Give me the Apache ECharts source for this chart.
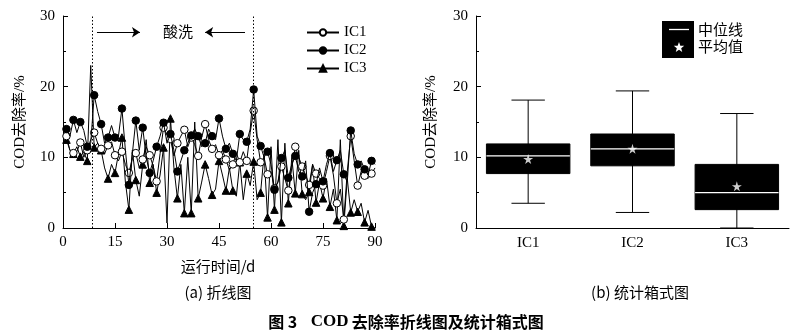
<!DOCTYPE html>
<html>
<head>
<meta charset="utf-8">
<script src="https://cdn.jsdelivr.net/npm/echarts@6/dist/echarts.min.js"></script>
<style>
  html, body { margin: 0; padding: 0; background: #fff; }
  #chart { width: 805px; height: 336px; }
</style>
</head>
<body>
<div id="chart"></div>
<script>
// Operating days (1..90) and daily COD removal (%) for the three cells
const days = Array.from({ length: 90 }, (_, i) => i + 1);

const ic1 = [
  13.0, 11.0, 10.6, 10.8, 12.1, 10.0, 11.0, 12.5, 13.5, 12.0,
  11.2, 10.5, 11.7, 12.2, 10.3, 9.5, 10.8, 9.0, 7.8, 9.8,
  10.6, 8.5, 9.7, 11.5, 10.3, 8.8, 6.6, 10.5, 14.2, 13.2,
  12.6, 10.2, 12.0, 13.0, 13.9, 11.5, 12.8, 11.8, 10.2, 12.8,
  14.7, 12.5, 11.2, 11.8, 10.3, 11.0, 9.7, 8.2, 9.0, 10.6,
  9.3, 10.8, 9.5, 13.5, 16.6, 12.5, 9.3, 10.0, 7.6, 8.0,
  5.6, 6.5, 8.7, 7.0, 5.3, 8.5, 11.5, 10.0, 8.7, 7.5,
  6.1, 9.0, 7.7, 7.0, 6.0, 8.0, 10.2, 7.5, 3.5, 5.5,
  1.2, 8.0, 13.0, 9.5, 6.0, 8.0, 7.4, 7.0, 7.7, 8.5
];

const ic2 = [
  14.0, 13.0, 15.3, 13.5, 15.0, 13.8, 11.5, 12.0, 18.8, 16.5,
  14.7, 12.0, 12.8, 14.5, 12.8, 13.0, 16.9, 11.0, 6.1, 10.5,
  15.2, 11.0, 14.2, 10.0, 7.8, 9.5, 11.5, 13.0, 14.9, 12.0,
  13.3, 11.0, 8.0, 9.5, 11.0, 12.0, 13.1, 14.0, 13.0, 11.5,
  12.0, 14.0, 13.0, 12.5, 15.5, 13.0, 11.2, 12.0, 10.5, 9.5,
  13.3, 12.5, 12.2, 14.0, 19.6, 13.0, 11.6, 10.0, 10.8, 9.0,
  5.4, 6.5, 9.9, 11.0, 7.1, 9.0, 10.2, 8.0, 7.3, 9.5,
  2.3, 5.0, 6.2, 8.5, 6.6, 9.0, 10.6, 8.0, 9.6, 11.0,
  7.6, 6.5, 13.8, 10.5, 9.0, 9.5, 8.3, 7.5, 9.5, 9.0
];

const ic3 = [
  12.5, 11.0, 10.5, 11.5, 10.1, 10.8, 9.5, 23.0, 11.4, 12.0,
  11.0, 8.5, 7.0, 9.0, 7.8, 10.5, 12.8, 6.5, 2.6, 11.0,
  6.8, 4.5, 9.0, 12.5, 6.4, 9.0, 5.0, 7.5, 11.4, 0.7,
  15.5, 8.5, 4.2, 9.0, 2.1, 10.0, 2.1, 15.0, 4.2, 6.5,
  9.0, 7.0, 4.7, 5.5, 9.5, 7.5, 5.3, 8.5, 5.3, 4.5,
  9.3, 4.0, 7.7, 6.0, 9.4, 4.0, 5.0, 10.5, 1.5, 11.5,
  2.6, 12.5, 0.8, 12.0, 3.5, 10.0, 4.9, 11.0, 4.8, 4.0,
  5.1, 9.0, 3.6, 6.5, 4.2, 7.0, 3.0, 5.5, 1.1, 12.5,
  0.3, 7.0, 2.2, 4.0, 2.3, 3.5, 0.8, 2.5, 0.2, 0.0
];

// Acid-wash boundaries (day)
const acidWashDays = [8.3, 55];

// Box-plot statistics per cell
const cells = ['IC1', 'IC2', 'IC3'];
const boxMin = [3.5, 2.2, 0.0];
const boxQ1 = [7.7, 8.8, 2.6];
const boxMedian = [10.2, 11.2, 5.0];
const boxQ3 = [11.9, 13.3, 9.0];
const boxMax = [18.1, 19.4, 16.2];
const boxMean = [9.75, 11.2, 5.9];

const xTicks = { min: 0, max: 90, interval: 15 };
const yTicks = { min: 0, max: 30, interval: 10 };

const SERIF = '"Liberation Serif", "Times New Roman", serif';
const CJK = '"Noto Sans CJK SC", sans-serif';
const STAR = 'path://M50,0 L61,35 L98,35 L68,57 L79,91 L50,70 L21,91 L32,57 L2,35 L39,35 Z';

// five-pointed star outline for the key
function starPoints(cx, cy, rOut, rIn) {
  const pts = [];
  for (let k = 0; k < 10; k++) {
    const r = k % 2 === 0 ? rOut : rIn;
    const a = -Math.PI / 2 + k * Math.PI / 5;
    pts.push([cx + r * Math.cos(a), cy + r * Math.sin(a)]);
  }
  return pts;
}

// markers on every other day, plain line in between
function lineData(values) {
  return values.map((v, i) => [days[i], v]);
}
function markerSize(size) {
  return (val, p) => (p.dataIndex % 2 === 0 ? size : 0);
}

const axisText = { color: '#000', fontFamily: SERIF, fontSize: 15 };
const blackLine = { lineStyle: { color: '#000', width: 1 } };

function valueYAxis(gridIndex, gap) {
  return {
    gridIndex, type: 'value', min: yTicks.min, max: yTicks.max, interval: yTicks.interval,
    name: 'COD去除率/%', nameLocation: 'middle', nameGap: gap,
    nameTextStyle: { color: '#000', fontFamily: SERIF + ',' + CJK, fontSize: 15 },
    axisLine: { show: true, ...blackLine },
    axisTick: { show: true, inside: true, length: 5, ...blackLine },
    minorTick: { show: true, splitNumber: 2, length: 3, ...blackLine },
    splitLine: { show: false },
    axisLabel: { ...axisText, margin: 8 }
  };
}

const chart = echarts.init(document.getElementById('chart'), null, { renderer: 'canvas' });

chart.setOption({
  animation: false,
  backgroundColor: '#fff',
  grid: [
    { left: 63, top: 16, width: 312, height: 212 },
    { left: 476, top: 16, width: 313, height: 212 }
  ],
  xAxis: [
    {
      gridIndex: 0, type: 'value', min: xTicks.min, max: xTicks.max, interval: xTicks.interval,
      axisLine: { show: true, ...blackLine },
      axisTick: { show: true, inside: true, length: 5, ...blackLine },
      splitLine: { show: false },
      axisLabel: { ...axisText, margin: 7 }
    },
    {
      gridIndex: 1, type: 'category', data: cells, boundaryGap: true,
      axisLine: { show: true, ...blackLine },
      axisTick: { show: false },
      splitLine: { show: false },
      axisLabel: { ...axisText, margin: 8 }
    }
  ],
  yAxis: [valueYAxis(0, 35), valueYAxis(1, 37)],
  legend: {
    data: ['IC1', 'IC2', 'IC3'],
    orient: 'vertical',
    left: 301, top: 20,
    itemWidth: 32, itemHeight: 8, itemGap: 3,
    textStyle: { color: '#000', fontFamily: SERIF, fontSize: 15 },
    inactiveColor: '#000'
  },
  series: [
    {
      name: 'IC1', type: 'line', xAxisIndex: 0, yAxisIndex: 0,
      data: lineData(ic1),
      symbol: 'circle', symbolSize: markerSize(7.5), showAllSymbol: true,
      lineStyle: { color: '#000', width: 1 },
      itemStyle: { color: '#fff', borderColor: '#000', borderWidth: 1 },
      z: 3,
      markLine: {
        silent: true, symbol: 'none', label: { show: false },
        lineStyle: { color: '#000', width: 1, type: [1.5, 2] },
        data: acidWashDays.map(d => ({ xAxis: d }))
      }
    },
    {
      name: 'IC2', type: 'line', xAxisIndex: 0, yAxisIndex: 0,
      data: lineData(ic2),
      symbol: 'circle', symbolSize: markerSize(7.5), showAllSymbol: true,
      lineStyle: { color: '#000', width: 1 },
      itemStyle: { color: '#000', borderColor: '#000', borderWidth: 1 },
      z: 4,
      markLine: {
        silent: true, symbol: ['none', 'arrow'], symbolSize: 8,
        label: { show: false },
        itemStyle: { color: '#000' },
        lineStyle: { color: '#000', width: 1, type: 'solid' },
        data: [
          [{ coord: [9.8, 27.7] }, { coord: [22.2, 27.7] }],
          [{ coord: [52.5, 27.7] }, { coord: [41, 27.7] }]
        ]
      }
    },
    {
      name: 'IC3', type: 'line', xAxisIndex: 0, yAxisIndex: 0,
      data: lineData(ic3),
      symbol: 'triangle', symbolSize: markerSize(7.5), showAllSymbol: true,
      lineStyle: { color: '#000', width: 1 },
      itemStyle: { color: '#000', borderColor: '#000', borderWidth: 1 },
      z: 2
    },
    {
      name: 'box', type: 'custom', xAxisIndex: 1, yAxisIndex: 1,
      data: cells.map((c, i) => [i, boxMin[i], boxQ1[i], boxMedian[i], boxQ3[i], boxMax[i]]),
      encode: { x: 0, y: [1, 2, 3, 4, 5] },
      renderItem: (params, api) => {
        const idx = api.value(0);
        const band = api.size([1, 0])[0];
        const cx = api.coord([idx, 0])[0];
        const boxW = band * 0.8;
        const capW = band * 0.32;
        const yMin = api.coord([idx, api.value(1)])[1];
        const yQ1 = api.coord([idx, api.value(2)])[1];
        const yMed = api.coord([idx, api.value(3)])[1];
        const yQ3 = api.coord([idx, api.value(4)])[1];
        const yMax = api.coord([idx, api.value(5)])[1];
        const stroke = { stroke: '#000', lineWidth: 1 };
        return {
          type: 'group',
          children: [
            { type: 'line', shape: { x1: cx, y1: yMax, x2: cx, y2: yMin }, style: stroke },
            { type: 'line', shape: { x1: cx - capW / 2, y1: yMax, x2: cx + capW / 2, y2: yMax }, style: stroke },
            { type: 'line', shape: { x1: cx - capW / 2, y1: yMin, x2: cx + capW / 2, y2: yMin }, style: stroke },
            { type: 'rect', shape: { x: cx - boxW / 2, y: yQ3, width: boxW, height: yQ1 - yQ3 },
              style: { fill: '#000', stroke: '#000', lineWidth: 1 } },
            { type: 'line', shape: { x1: cx - boxW / 2, y1: yMed, x2: cx + boxW / 2, y2: yMed },
              style: { stroke: '#fff', lineWidth: 1.3 } }
          ]
        };
      },
      z: 2
    },
    {
      name: 'mean', type: 'scatter', xAxisIndex: 1, yAxisIndex: 1,
      data: cells.map((c, i) => [i, boxMean[i]]),
      symbol: STAR, symbolSize: 10,
      itemStyle: { color: '#fff' },
      z: 5
    }
  ],
  graphic: [
    { type: 'text', left: 163, top: 24,
      style: { text: '酸洗', fill: '#000', font: '15px ' + CJK } },
    // box-plot key
    { type: 'rect', shape: { x: 662, y: 21, width: 32, height: 37 }, style: { fill: '#000' } },
    { type: 'line', shape: { x1: 669, y1: 29.5, x2: 689, y2: 29.5 }, style: { stroke: '#fff', lineWidth: 1.3 } },
    { type: 'polygon', shape: { points: starPoints(679, 47.5, 5.5, 2.3) }, style: { fill: '#fff' } },
    { type: 'text', left: 698, top: 22, style: { text: '中位线', fill: '#000', font: '15px ' + CJK } },
    { type: 'text', left: 698, top: 39, style: { text: '平均值', fill: '#000', font: '15px ' + CJK } },
    // captions
    { type: 'text', x: 218, y: 266, style: { text: '运行时间/d', fill: '#000', font: '15px ' + CJK, align: 'center', verticalAlign: 'middle' } },
    { type: 'text', x: 218, y: 292, style: { text: '(a) 折线图', fill: '#000', font: '15px ' + CJK, align: 'center', verticalAlign: 'middle' } },
    { type: 'text', x: 640, y: 292, style: { text: '(b) 统计箱式图', fill: '#000', font: '15px ' + CJK, align: 'center', verticalAlign: 'middle' } },
    { type: 'text', x: 406, y: 322,
      style: {
        text: '{a|图 3}    {b|COD} {a|去除率折线图及统计箱式图}',
        align: 'center', verticalAlign: 'middle',
        rich: {
          a: { fontFamily: CJK, fontWeight: 'bold', fontSize: 16, fill: '#000' },
          b: { fontFamily: SERIF, fontWeight: 'bold', fontSize: 17, fill: '#000' }
        }
      } }
  ]
});
</script>
</body>
</html>
